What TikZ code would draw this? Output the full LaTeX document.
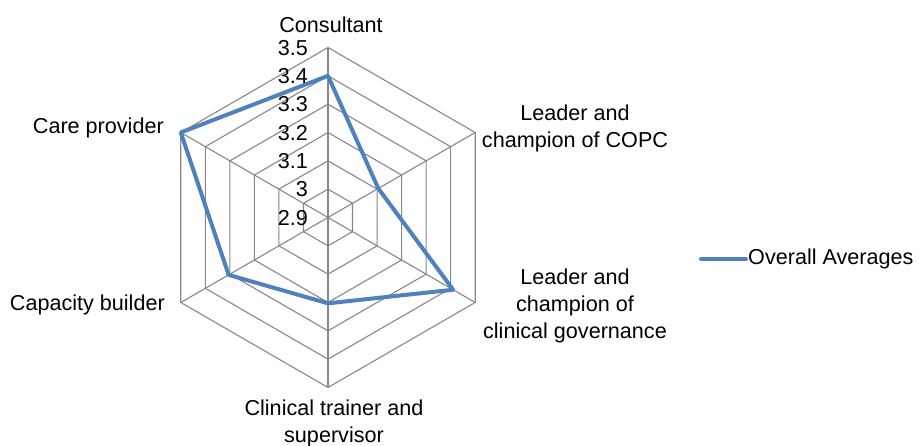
\documentclass[tikz,border=0pt]{standalone}
\usepackage{fontspec}
\setmainfont{Liberation Sans}
\usetikzlibrary{calc}
\definecolor{gridgray}{HTML}{878787}
\definecolor{serblue}{HTML}{4F81BD}
\begin{document}
\begin{tikzpicture}[x=1pt,y=1pt,
  lab/.style={font=\fontsize{21.6}{26.6}\selectfont, inner sep=0pt, align=center},
  gridline/.style={draw=gridgray, line width=1.1pt},
  serline/.style={draw=serblue, line width=4pt, line join=round, line cap=round}]
\useasboundingbox (0,0) rectangle (919,446);
\coordinate (c) at (328,228.5);
\def\rs{28.33}
% grid hexagons
\foreach \k in {1,...,6}{
  \draw[gridline] ($(c)+(90:\k*\rs)$) -- ($(c)+(30:\k*\rs)$) -- ($(c)+(-30:\k*\rs)$) -- ($(c)+(-90:\k*\rs)$) -- ($(c)+(-150:\k*\rs)$) -- ($(c)+(150:\k*\rs)$) -- cycle;
}
\foreach \a in {90,30,-30,-90,-150,150}{
  \draw[gridline] (c) -- ($(c)+(\a:6*\rs)$);
}
% data
\coordinate (p1) at ($(c)+(90:5*\rs)$);
\coordinate (p2) at ($(c)+(30:2.05*\rs)$);
\coordinate (p3) at ($(c)+(-30:5.1*\rs)$);
\coordinate (p4) at ($(c)+(-90:3.03*\rs)$);
\coordinate (p5) at ($(c)+(-150:4.05*\rs)$);
\coordinate (p6) at ($(c)+(150:6*\rs)$);
\draw[serline] (p1) -- (p2) -- (p3) -- (p4) -- (p5) -- (p6) -- cycle;
% tick labels
\foreach \k/\t in {0/2.9,1/3,2/3.1,3/3.2,4/3.3,5/3.4,6/3.5}{
  \node[lab, anchor=base east] (t\k) at (308,228.5+\k*\rs-7.7) {\t};
}
% axis labels
\node[lab] (consultant) at (331,421) {Consultant};
\node[lab] (copc) at (575,317.7) {Leader and\\champion of COPC};
\node[lab] (gov) at (575,140) {Leader and\\champion of\\clinical governance};
\node[lab] (trainer) at (334,22.7) {Clinical trainer and\\supervisor};
\node[lab, anchor=east] (care) at (164,318.3) {Care provider};
\node[lab, anchor=east] (cap) at (165,141) {Capacity builder};
% legend
\coordinate (l1) at (701,187);
\coordinate (l2) at (746,187);
\draw[serline] (l1) -- (l2);
\node[lab, anchor=west] (leg) at (748,187) {Overall Averages};
\end{tikzpicture}
\end{document}
